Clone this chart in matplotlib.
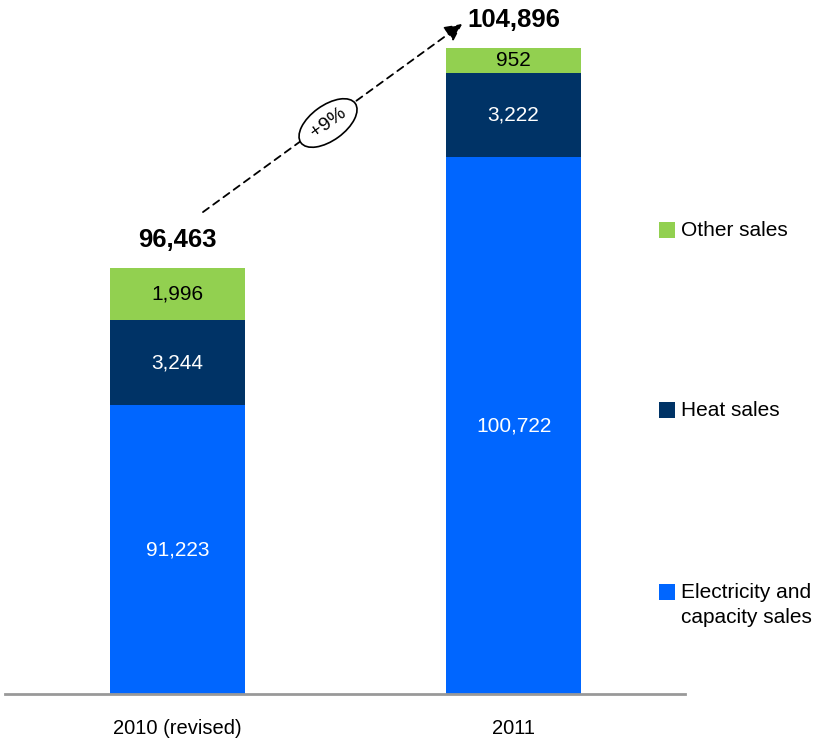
import matplotlib
matplotlib.use('Agg')
import matplotlib.pyplot as plt
import matplotlib.patches as mpatches
import numpy as np

plt.rcParams['font.family'] = ['Liberation Sans', 'DejaVu Sans']

# ================= DATA =================
years = ['2010 (revised)', '2011']
electricity = [91223, 100722]
heat = [3244, 3222]
other = [1996, 952]
totals = [96463, 104896]
growth_label = '+9%'

series = ['Electricity and\ncapacity sales', 'Heat sales', 'Other sales']
colors = ['#0066FF', '#003366', '#92D050']
text_colors = ['white', 'white', 'black']

# ================= PLOT =================
fig = plt.figure(figsize=(8.17, 7.42), dpi=100)
ax = fig.add_axes([5 / 817, 1 - 694 / 742, 680 / 817, 694 / 742])

Y_MIN, Y_MAX = 80150, 106752
ax.set_ylim(Y_MIN, Y_MAX)
ax.set_xlim(-0.513, 1.510)

x = np.arange(len(years))
width = 0.40
bottom = np.zeros(len(years))
for vals, col, tcol in zip([electricity, heat, other], colors, text_colors):
    vals = np.array(vals)
    ax.bar(x, vals, width, bottom=bottom, color=col, edgecolor='none', zorder=2)
    for xi, b, v in zip(x, bottom, vals):
        lo = max(b, Y_MIN)  # label centred in the visible part of the segment
        ax.text(xi, (lo + b + v) / 2, f'{v:,}', ha='center', va='center',
                color=tcol, fontsize=15, zorder=5)
    bottom += vals

# totals
for xi, t in zip(x, totals):
    ax.text(xi, t + 1090, f'{t:,}', ha='center', va='center',
            fontsize=18.5, fontweight='bold')

# growth arrow
x0, y0 = x[0] + 0.076, totals[0] + 2160
x1, y1 = x[1] - 0.153, totals[1] + 936
ax.annotate('', xy=(x1, y1), xytext=(x0, y0),
            arrowprops=dict(arrowstyle='-|>', linestyle=(0, (4, 3)), color='black',
                            lw=1.3, mutation_scale=26, shrinkA=0, shrinkB=0))
ax.text(0.448, 102037, growth_label, ha='center', va='center', rotation=36,
        rotation_mode='anchor', fontsize=14, zorder=4,
        bbox=dict(boxstyle='ellipse,pad=0.2', facecolor='white',
                  edgecolor='black', lw=1.2))

# axes styling
for s in ['top', 'right', 'left']:
    ax.spines[s].set_visible(False)
ax.spines['bottom'].set_color('#999999')
ax.spines['bottom'].set_linewidth(2)
ax.set_yticks([])
ax.set_xticks(x)
ax.set_xticklabels(years, fontsize=14.5)
ax.tick_params(axis='x', length=0, pad=18)

# legend (manual)
leg_y = [605, 410, 230]
for name, col, yy in zip(series, colors, leg_y):
    sq_y = 592 if '\n' in name else yy
    fig.patches.append(mpatches.Rectangle((659 / 817, 1 - (sq_y + 8) / 742), 16 / 817, 16 / 742,
                                          facecolor=col, edgecolor='none',
                                          transform=fig.transFigure, figure=fig))
    fig.text(681 / 817, 1 - yy / 742, name, ha='left', va='center', fontsize=15,
             linespacing=1.45)

fig.savefig('out.png', dpi=100)
